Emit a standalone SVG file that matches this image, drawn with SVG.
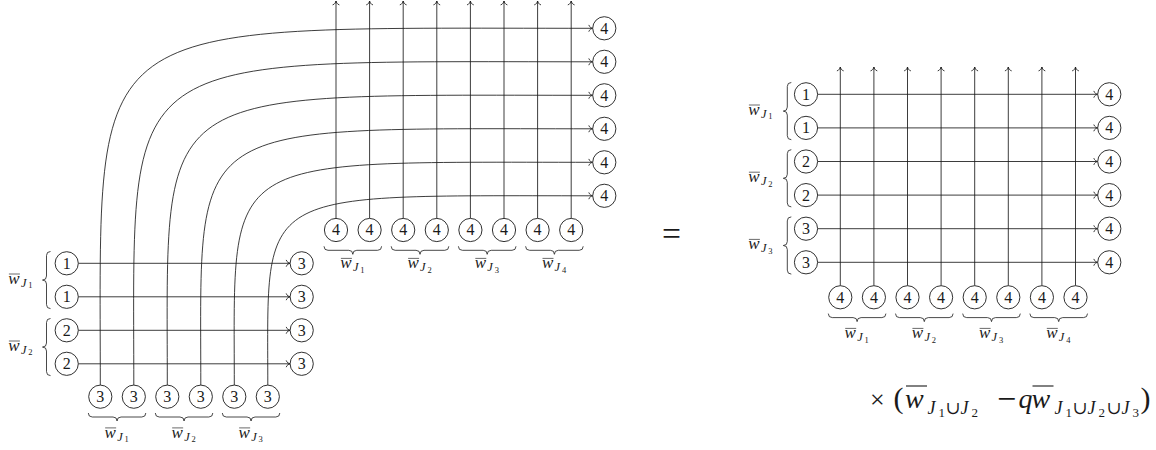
<svg xmlns="http://www.w3.org/2000/svg" width="1156" height="450" viewBox="0 0 1156 450">
<style>
.n circle{fill:#fff;stroke:#1a1a1a;stroke-width:0.9}
.n text{font-family:'Liberation Serif',serif;font-size:16px;text-anchor:middle;fill:#1a1a1a}
.e{fill:none;stroke:#1a1a1a;stroke-width:0.85;marker-end:url(#arr)}
.br{fill:none;stroke:#1a1a1a;stroke-width:0.8}
.lab text{font-family:'Liberation Serif',serif;fill:#1a1a1a}
.mi{font-size:17px;font-style:italic}
.sj{font-size:12.5px;font-style:italic}
.sn{font-size:8.5px}
.ov{stroke:#1a1a1a;stroke-width:0.65}
.f text{fill:#1a1a1a}
.it{font-style:italic}
</style>
<defs>
<marker id="arr" viewBox="-5 -4 6 8" refX="0" refY="0" markerWidth="6" markerHeight="8" markerUnits="userSpaceOnUse" orient="auto">
<path d="M-3.8,-3 C-3.3,-1.1 -1.2,-0.3 0,0 C-1.2,0.3 -3.3,1.1 -3.8,3" fill="none" stroke="#1a1a1a" stroke-width="0.85" stroke-linecap="round"/>
</marker>
</defs>

<g id="connectors">
<path class="e" d="M78.3,263.3 H290.1"/>
<path class="e" d="M78.3,296.8 H290.1"/>
<path class="e" d="M78.3,330.3 H290.1"/>
<path class="e" d="M78.3,363.8 H290.1"/>
<path class="e" d="M100.3,385.1 C100.3,10.46 75.68,28.3 592.7,28.3"/>
<path class="e" d="M133.8,385.1 C133.8,45.63 110.85,61.8 592.7,61.8"/>
<path class="e" d="M167.3,385.1 C167.3,80.81 146.03,95.3 592.7,95.3"/>
<path class="e" d="M200.8,385.1 C200.8,115.98 181.2,128.8 592.7,128.8"/>
<path class="e" d="M234.3,385.1 C234.3,151.16 216.38,162.3 592.7,162.3"/>
<path class="e" d="M267.8,385.1 C267.8,186.33 251.55,195.8 592.7,195.8"/>
<path class="e" d="M336,218.4 V1"/>
<path class="e" d="M369.6,218.4 V1"/>
<path class="e" d="M403.2,218.4 V1"/>
<path class="e" d="M436.8,218.4 V1"/>
<path class="e" d="M470.4,218.4 V1"/>
<path class="e" d="M504,218.4 V1"/>
<path class="e" d="M537.6,218.4 V1"/>
<path class="e" d="M571.2,218.4 V1"/>
<path class="e" d="M817.6,94.3 H1097.7"/>
<path class="e" d="M817.6,127.9 H1097.7"/>
<path class="e" d="M817.6,161.5 H1097.7"/>
<path class="e" d="M817.6,195.1 H1097.7"/>
<path class="e" d="M817.6,228.7 H1097.7"/>
<path class="e" d="M817.6,262.3 H1097.7"/>
<path class="e" d="M840.3,285.7 V67"/>
<path class="e" d="M873.9,285.7 V67"/>
<path class="e" d="M907.5,285.7 V67"/>
<path class="e" d="M941.1,285.7 V67"/>
<path class="e" d="M974.7,285.7 V67"/>
<path class="e" d="M1008.3,285.7 V67"/>
<path class="e" d="M1041.9,285.7 V67"/>
<path class="e" d="M1075.5,285.7 V67"/>
</g>

<!-- Left diagram nodes -->
<g id="a1" class="n"><circle cx="66.7" cy="263.3" r="11.6"/><text x="66.7" y="268.7">1</text></g>
<g id="a2" class="n"><circle cx="66.7" cy="296.8" r="11.6"/><text x="66.7" y="302.2">1</text></g>
<g id="a3" class="n"><circle cx="66.7" cy="330.3" r="11.6"/><text x="66.7" y="335.7">2</text></g>
<g id="a4" class="n"><circle cx="66.7" cy="363.8" r="11.6"/><text x="66.7" y="369.2">2</text></g>
<g id="b1" class="n"><circle cx="301.7" cy="263.3" r="11.6"/><text x="301.7" y="268.7">3</text></g>
<g id="b2" class="n"><circle cx="301.7" cy="296.8" r="11.6"/><text x="301.7" y="302.2">3</text></g>
<g id="b3" class="n"><circle cx="301.7" cy="330.3" r="11.6"/><text x="301.7" y="335.7">3</text></g>
<g id="b4" class="n"><circle cx="301.7" cy="363.8" r="11.6"/><text x="301.7" y="369.2">3</text></g>
<g id="c1" class="n"><circle cx="100.3" cy="396.7" r="11.6"/><text x="100.3" y="402.1">3</text></g>
<g id="c2" class="n"><circle cx="133.8" cy="396.7" r="11.6"/><text x="133.8" y="402.1">3</text></g>
<g id="c3" class="n"><circle cx="167.3" cy="396.7" r="11.6"/><text x="167.3" y="402.1">3</text></g>
<g id="c4" class="n"><circle cx="200.8" cy="396.7" r="11.6"/><text x="200.8" y="402.1">3</text></g>
<g id="c5" class="n"><circle cx="234.3" cy="396.7" r="11.6"/><text x="234.3" y="402.1">3</text></g>
<g id="c6" class="n"><circle cx="267.8" cy="396.7" r="11.6"/><text x="267.8" y="402.1">3</text></g>
<g id="d1" class="n"><circle cx="336" cy="230" r="11.6"/><text x="336" y="235.4">4</text></g>
<g id="d2" class="n"><circle cx="369.6" cy="230" r="11.6"/><text x="369.6" y="235.4">4</text></g>
<g id="d3" class="n"><circle cx="403.2" cy="230" r="11.6"/><text x="403.2" y="235.4">4</text></g>
<g id="d4" class="n"><circle cx="436.8" cy="230" r="11.6"/><text x="436.8" y="235.4">4</text></g>
<g id="d5" class="n"><circle cx="470.4" cy="230" r="11.6"/><text x="470.4" y="235.4">4</text></g>
<g id="d6" class="n"><circle cx="504" cy="230" r="11.6"/><text x="504" y="235.4">4</text></g>
<g id="d7" class="n"><circle cx="537.6" cy="230" r="11.6"/><text x="537.6" y="235.4">4</text></g>
<g id="d8" class="n"><circle cx="571.2" cy="230" r="11.6"/><text x="571.2" y="235.4">4</text></g>
<g id="e1" class="n"><circle cx="604.3" cy="28.3" r="11.6"/><text x="604.3" y="33.7">4</text></g>
<g id="e2" class="n"><circle cx="604.3" cy="61.8" r="11.6"/><text x="604.3" y="67.2">4</text></g>
<g id="e3" class="n"><circle cx="604.3" cy="95.3" r="11.6"/><text x="604.3" y="100.7">4</text></g>
<g id="e4" class="n"><circle cx="604.3" cy="128.8" r="11.6"/><text x="604.3" y="134.2">4</text></g>
<g id="e5" class="n"><circle cx="604.3" cy="162.3" r="11.6"/><text x="604.3" y="167.7">4</text></g>
<g id="e6" class="n"><circle cx="604.3" cy="195.8" r="11.6"/><text x="604.3" y="201.2">4</text></g>

<!-- Right diagram nodes -->
<g id="f1" class="n"><circle cx="806" cy="94.3" r="11.6"/><text x="806" y="99.7">1</text></g>
<g id="f2" class="n"><circle cx="806" cy="127.9" r="11.6"/><text x="806" y="133.3">1</text></g>
<g id="f3" class="n"><circle cx="806" cy="161.5" r="11.6"/><text x="806" y="166.9">2</text></g>
<g id="f4" class="n"><circle cx="806" cy="195.1" r="11.6"/><text x="806" y="200.5">2</text></g>
<g id="f5" class="n"><circle cx="806" cy="228.7" r="11.6"/><text x="806" y="234.1">3</text></g>
<g id="f6" class="n"><circle cx="806" cy="262.3" r="11.6"/><text x="806" y="267.7">3</text></g>
<g id="g1" class="n"><circle cx="1109.3" cy="94.3" r="11.6"/><text x="1109.3" y="99.7">4</text></g>
<g id="g2" class="n"><circle cx="1109.3" cy="127.9" r="11.6"/><text x="1109.3" y="133.3">4</text></g>
<g id="g3" class="n"><circle cx="1109.3" cy="161.5" r="11.6"/><text x="1109.3" y="166.9">4</text></g>
<g id="g4" class="n"><circle cx="1109.3" cy="195.1" r="11.6"/><text x="1109.3" y="200.5">4</text></g>
<g id="g5" class="n"><circle cx="1109.3" cy="228.7" r="11.6"/><text x="1109.3" y="234.1">4</text></g>
<g id="g6" class="n"><circle cx="1109.3" cy="262.3" r="11.6"/><text x="1109.3" y="267.7">4</text></g>
<g id="h1" class="n"><circle cx="840.3" cy="297.3" r="11.6"/><text x="840.3" y="302.7">4</text></g>
<g id="h2" class="n"><circle cx="873.9" cy="297.3" r="11.6"/><text x="873.9" y="302.7">4</text></g>
<g id="h3" class="n"><circle cx="907.5" cy="297.3" r="11.6"/><text x="907.5" y="302.7">4</text></g>
<g id="h4" class="n"><circle cx="941.1" cy="297.3" r="11.6"/><text x="941.1" y="302.7">4</text></g>
<g id="h5" class="n"><circle cx="974.7" cy="297.3" r="11.6"/><text x="974.7" y="302.7">4</text></g>
<g id="h6" class="n"><circle cx="1008.3" cy="297.3" r="11.6"/><text x="1008.3" y="302.7">4</text></g>
<g id="h7" class="n"><circle cx="1041.9" cy="297.3" r="11.6"/><text x="1041.9" y="302.7">4</text></g>
<g id="h8" class="n"><circle cx="1075.5" cy="297.3" r="11.6"/><text x="1075.5" y="302.7">4</text></g>

<!-- Braces -->
<g id="braces">
<path class="br" d="M50.5,251.5 q-4,0 -4,4 V276.05 q0,4 -4,4 q4,0 4,4 V304.6 q0,4 4,4"/>
<path class="br" d="M50.5,318.5 q-4,0 -4,4 V343.05 q0,4 -4,4 q4,0 4,4 V371.6 q0,4 4,4"/>
<path class="br" d="M88.3,413 q0,4 4,4 H113.05 q4,0 4,4 q0,-4 4,-4 H141.8 q4,0 4,-4"/>
<path class="br" d="M155.3,413 q0,4 4,4 H180.05 q4,0 4,4 q0,-4 4,-4 H208.8 q4,0 4,-4"/>
<path class="br" d="M222.3,413 q0,4 4,4 H247.05 q4,0 4,4 q0,-4 4,-4 H275.8 q4,0 4,-4"/>
<path class="br" d="M324,246.3 q0,4 4,4 H348.8 q4,0 4,4 q0,-4 4,-4 H377.6 q4,0 4,-4"/>
<path class="br" d="M391.2,246.3 q0,4 4,4 H416 q4,0 4,4 q0,-4 4,-4 H444.8 q4,0 4,-4"/>
<path class="br" d="M458.4,246.3 q0,4 4,4 H483.2 q4,0 4,4 q0,-4 4,-4 H512 q4,0 4,-4"/>
<path class="br" d="M525.6,246.3 q0,4 4,4 H550.4 q4,0 4,4 q0,-4 4,-4 H579.2 q4,0 4,-4"/>
<path class="br" d="M791.3,82.5 q-4,0 -4,4 V107.1 q0,4 -4,4 q4,0 4,4 V135.7 q0,4 4,4"/>
<path class="br" d="M791.3,149.7 q-4,0 -4,4 V174.3 q0,4 -4,4 q4,0 4,4 V202.9 q0,4 4,4"/>
<path class="br" d="M791.3,216.9 q-4,0 -4,4 V241.5 q0,4 -4,4 q4,0 4,4 V270.1 q0,4 4,4"/>
<path class="br" d="M828.3,313.6 q0,4 4,4 H853.1 q4,0 4,4 q0,-4 4,-4 H881.9 q4,0 4,-4"/>
<path class="br" d="M895.5,313.6 q0,4 4,4 H920.3 q4,0 4,4 q0,-4 4,-4 H949.1 q4,0 4,-4"/>
<path class="br" d="M962.7,313.6 q0,4 4,4 H987.5 q4,0 4,4 q0,-4 4,-4 H1016.3 q4,0 4,-4"/>
<path class="br" d="M1029.9,313.6 q0,4 4,4 H1054.7 q4,0 4,4 q0,-4 4,-4 H1083.5 q4,0 4,-4"/>
</g>

<!-- Labels -->
<g id="lab-L1" class="lab" transform="translate(8.3,283.6)"><text class="mi" x="0" y="0">w</text><line class="ov" x1="0.6" y1="-9.6" x2="11.6" y2="-9.6"/><text class="sj" x="12.6" y="3">J</text><text class="sn" x="20" y="4.8">1</text></g>
<g id="lab-L2" class="lab" transform="translate(8.3,350.6)"><text class="mi" x="0" y="0">w</text><line class="ov" x1="0.6" y1="-9.6" x2="11.6" y2="-9.6"/><text class="sj" x="12.6" y="3">J</text><text class="sn" x="20" y="4.8">2</text></g>
<g id="lab-B1" class="lab" transform="translate(104.55,437.5)"><text class="mi" x="0" y="0">w</text><line class="ov" x1="0.6" y1="-9.6" x2="11.6" y2="-9.6"/><text class="sj" x="12.6" y="3">J</text><text class="sn" x="20" y="4.8">1</text></g>
<g id="lab-B2" class="lab" transform="translate(171.55,437.5)"><text class="mi" x="0" y="0">w</text><line class="ov" x1="0.6" y1="-9.6" x2="11.6" y2="-9.6"/><text class="sj" x="12.6" y="3">J</text><text class="sn" x="20" y="4.8">2</text></g>
<g id="lab-B3" class="lab" transform="translate(238.55,437.5)"><text class="mi" x="0" y="0">w</text><line class="ov" x1="0.6" y1="-9.6" x2="11.6" y2="-9.6"/><text class="sj" x="12.6" y="3">J</text><text class="sn" x="20" y="4.8">3</text></g>
<g id="lab-T1" class="lab" transform="translate(340.3,268)"><text class="mi" x="0" y="0">w</text><line class="ov" x1="0.6" y1="-9.6" x2="11.6" y2="-9.6"/><text class="sj" x="12.6" y="3">J</text><text class="sn" x="20" y="4.8">1</text></g>
<g id="lab-T2" class="lab" transform="translate(407.5,268)"><text class="mi" x="0" y="0">w</text><line class="ov" x1="0.6" y1="-9.6" x2="11.6" y2="-9.6"/><text class="sj" x="12.6" y="3">J</text><text class="sn" x="20" y="4.8">2</text></g>
<g id="lab-T3" class="lab" transform="translate(474.7,268)"><text class="mi" x="0" y="0">w</text><line class="ov" x1="0.6" y1="-9.6" x2="11.6" y2="-9.6"/><text class="sj" x="12.6" y="3">J</text><text class="sn" x="20" y="4.8">3</text></g>
<g id="lab-T4" class="lab" transform="translate(541.9,268)"><text class="mi" x="0" y="0">w</text><line class="ov" x1="0.6" y1="-9.6" x2="11.6" y2="-9.6"/><text class="sj" x="12.6" y="3">J</text><text class="sn" x="20" y="4.8">4</text></g>
<g id="lab-R1" class="lab" transform="translate(748.3,114.6)"><text class="mi" x="0" y="0">w</text><line class="ov" x1="0.6" y1="-9.6" x2="11.6" y2="-9.6"/><text class="sj" x="12.6" y="3">J</text><text class="sn" x="20" y="4.8">1</text></g>
<g id="lab-R2" class="lab" transform="translate(748.3,181.8)"><text class="mi" x="0" y="0">w</text><line class="ov" x1="0.6" y1="-9.6" x2="11.6" y2="-9.6"/><text class="sj" x="12.6" y="3">J</text><text class="sn" x="20" y="4.8">2</text></g>
<g id="lab-R3" class="lab" transform="translate(748.3,249)"><text class="mi" x="0" y="0">w</text><line class="ov" x1="0.6" y1="-9.6" x2="11.6" y2="-9.6"/><text class="sj" x="12.6" y="3">J</text><text class="sn" x="20" y="4.8">3</text></g>
<g id="lab-RB1" class="lab" transform="translate(844.6,338)"><text class="mi" x="0" y="0">w</text><line class="ov" x1="0.6" y1="-9.6" x2="11.6" y2="-9.6"/><text class="sj" x="12.6" y="3">J</text><text class="sn" x="20" y="4.8">1</text></g>
<g id="lab-RB2" class="lab" transform="translate(911.8,338)"><text class="mi" x="0" y="0">w</text><line class="ov" x1="0.6" y1="-9.6" x2="11.6" y2="-9.6"/><text class="sj" x="12.6" y="3">J</text><text class="sn" x="20" y="4.8">2</text></g>
<g id="lab-RB3" class="lab" transform="translate(979,338)"><text class="mi" x="0" y="0">w</text><line class="ov" x1="0.6" y1="-9.6" x2="11.6" y2="-9.6"/><text class="sj" x="12.6" y="3">J</text><text class="sn" x="20" y="4.8">3</text></g>
<g id="lab-RB4" class="lab" transform="translate(1046.2,338)"><text class="mi" x="0" y="0">w</text><line class="ov" x1="0.6" y1="-9.6" x2="11.6" y2="-9.6"/><text class="sj" x="12.6" y="3">J</text><text class="sn" x="20" y="4.8">4</text></g>

<!-- Equals sign -->
<g id="equals" class="f" font-family="Liberation Serif, serif"><text x="662" y="245" font-size="34" textLength="19" lengthAdjust="spacingAndGlyphs">=</text></g>

<!-- Formula -->
<g id="formula" class="f" font-family="Liberation Serif, DejaVu Serif, serif">
<text x="870" y="408" font-size="26">×</text>
<text x="893.5" y="408" font-size="30">(</text>
<text class="it" x="905" y="408" font-size="28">w</text>
<line x1="906" y1="386" x2="927" y2="386" stroke="#1a1a1a" stroke-width="1.1"/>
<text class="it" x="927.5" y="414" font-size="18">J</text>
<text x="938.5" y="417" font-size="13">1</text>
<text x="945.5" y="414" font-size="18">∪</text>
<text class="it" x="960.5" y="414" font-size="18">J</text>
<text x="971.5" y="417" font-size="13">2</text>
<text x="997" y="410" font-size="34">−</text>
<text class="it" x="1018.5" y="408" font-size="28">q</text>
<text class="it" x="1031.5" y="408" font-size="28">w</text>
<line x1="1032.5" y1="386" x2="1053.5" y2="386" stroke="#1a1a1a" stroke-width="1.1"/>
<text class="it" x="1054.5" y="414" font-size="18">J</text>
<text x="1065.5" y="417" font-size="13">1</text>
<text x="1072.5" y="414" font-size="18">∪</text>
<text class="it" x="1087.5" y="414" font-size="18">J</text>
<text x="1098.5" y="417" font-size="13">2</text>
<text x="1106.5" y="414" font-size="18">∪</text>
<text class="it" x="1121.5" y="414" font-size="18">J</text>
<text x="1132.5" y="417" font-size="13">3</text>
<text x="1140.5" y="408" font-size="30">)</text>
</g>
</svg>
